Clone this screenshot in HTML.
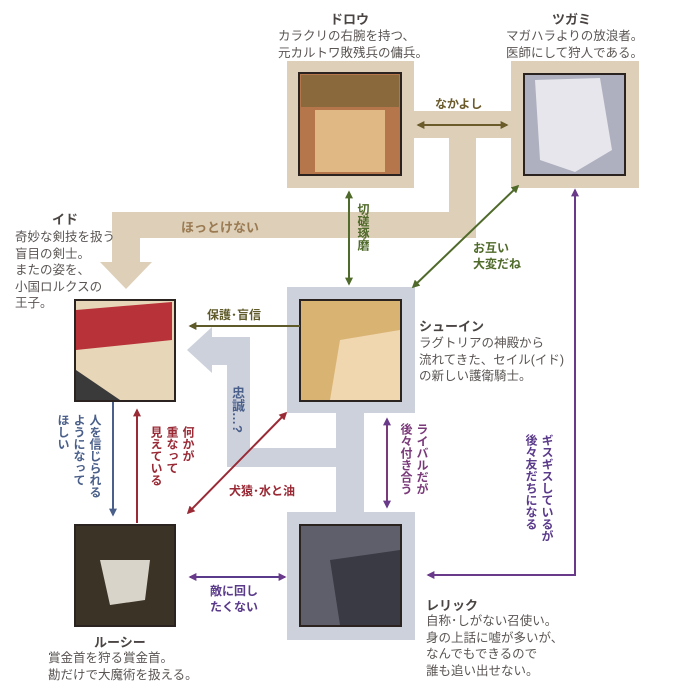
<!DOCTYPE html>
<html><head><meta charset="utf-8"><style>
body{margin:0;background:#fff;}
#c{position:relative;width:700px;height:700px;overflow:hidden;font-family:"Liberation Sans","Noto Sans CJK JP",sans-serif;color:#5a5553;}
.t{position:absolute;font-size:12.5px;line-height:16.5px;white-space:nowrap;}
.h{position:absolute;font-size:13px;font-weight:bold;color:#4a4543;white-space:nowrap;}
.v{position:absolute;writing-mode:vertical-rl;font-size:12.5px;line-height:16px;font-weight:bold;white-space:nowrap;}
.l{position:absolute;font-size:12.5px;font-weight:bold;white-space:nowrap;}
</style></head><body><div id="c">
<svg width="700" height="700" style="position:absolute;left:0;top:0">
<defs>
<marker id="ab" viewBox="0 0 10 10" refX="8" refY="5" markerWidth="4" markerHeight="4" orient="auto-start-reverse"><path d="M0,0L10,5L0,10z" fill="#6b5a2a"/></marker>
<marker id="ag" viewBox="0 0 10 10" refX="8" refY="5" markerWidth="4" markerHeight="4" orient="auto-start-reverse"><path d="M0,0L10,5L0,10z" fill="#4f6a2a"/></marker>
<marker id="ap" viewBox="0 0 10 10" refX="8" refY="5" markerWidth="4" markerHeight="4" orient="auto-start-reverse"><path d="M0,0L10,5L0,10z" fill="#6a3a8a"/></marker>
<marker id="ar" viewBox="0 0 10 10" refX="8" refY="5" markerWidth="4" markerHeight="4" orient="auto-start-reverse"><path d="M0,0L10,5L0,10z" fill="#9a2a35"/></marker>
<marker id="abl" viewBox="0 0 10 10" refX="8" refY="5" markerWidth="4" markerHeight="4" orient="auto-start-reverse"><path d="M0,0L10,5L0,10z" fill="#4a5f8a"/></marker>
<marker id="ao" viewBox="0 0 10 10" refX="8" refY="5" markerWidth="4" markerHeight="4" orient="auto-start-reverse"><path d="M0,0L10,5L0,10z" fill="#5f5a2a"/></marker>
</defs>
<g fill="#ddcfb8">
<rect x="287" y="61" width="127" height="127"/>
<rect x="511" y="61" width="128" height="127"/>
<rect x="413" y="111" width="100" height="27"/>
<rect x="449" y="111" width="27" height="127"/>
<rect x="112" y="212" width="364" height="26"/>
<rect x="112" y="212" width="28" height="52"/>
<path d="M100,262L152,262L126,289z"/>
</g>
<g fill="#cdd1dc">
<rect x="287" y="287" width="128" height="126"/>
<rect x="287" y="512" width="128" height="128"/>
<rect x="336" y="410" width="28" height="104"/>
<rect x="227" y="337" width="23" height="130"/>
<rect x="227" y="448" width="112" height="19"/>
<rect x="210" y="337" width="40" height="28"/>
<path d="M212,327L212,373L187,350z"/>
</g>
<rect x="299" y="73" width="102" height="102" fill="#b4764a" stroke="#2a2320" stroke-width="2"/>
<rect x="301" y="75" width="98" height="32" fill="#8a6a3c"/>
<rect x="315" y="110" width="70" height="62" fill="#e0b884"/>
<rect x="524" y="74" width="101" height="101" fill="#aeb0bf" stroke="#2a2320" stroke-width="2"/>
<path d="M535,80L600,78L612,150L575,172L540,160z" fill="#e6e6ec"/>
<rect x="300" y="300" width="101" height="101" fill="#d9b372" stroke="#2a2320" stroke-width="2"/>
<path d="M340,340L400,330L400,400L330,400z" fill="#f0d7b0"/>
<rect x="300" y="525" width="101" height="101" fill="#5e5f6a" stroke="#2a2320" stroke-width="2"/>
<path d="M330,560L400,550L400,625L340,625z" fill="#3a3a44"/>
<rect x="75" y="300" width="100" height="101" fill="#e8d6b8" stroke="#2a2320" stroke-width="2"/>
<path d="M76,310L172,302L172,340L76,350z" fill="#b8323a"/>
<path d="M76,370L120,400L76,400z" fill="#3a3a3a"/>
<rect x="75" y="525" width="100" height="101" fill="#3a3326" stroke="#2a2320" stroke-width="2"/>
<path d="M100,560L150,560L145,600L110,605z" fill="#d8d4ca"/>
<line x1="418" y1="125" x2="507" y2="125" stroke="#6b5a2a" stroke-width="2" marker-start="url(#ab)" marker-end="url(#ab)"/>
<line x1="349" y1="192" x2="349" y2="284" stroke="#4f6a2a" stroke-width="2" marker-start="url(#ag)" marker-end="url(#ag)"/>
<line x1="518" y1="186" x2="413" y2="287" stroke="#4f6a2a" stroke-width="2" marker-start="url(#ag)" marker-end="url(#ag)"/>
<polyline points="575,190 575,575 428,575" fill="none" stroke="#6a3a8a" stroke-width="2" marker-start="url(#ap)" marker-end="url(#ap)"/>
<line x1="387" y1="419" x2="387" y2="507" stroke="#7a3a7a" stroke-width="2" marker-start="url(#ap)" marker-end="url(#ap)"/>
<line x1="300" y1="326" x2="190" y2="326" stroke="#5f5a2a" stroke-width="2" marker-end="url(#ao)"/>
<line x1="286" y1="413" x2="188" y2="513" stroke="#9a2a35" stroke-width="2" marker-start="url(#ar)" marker-end="url(#ar)"/>
<line x1="113" y1="402" x2="113" y2="515" stroke="#4a5f8a" stroke-width="2" marker-end="url(#abl)"/>
<line x1="137" y1="523" x2="137" y2="410" stroke="#9a2a35" stroke-width="2" marker-end="url(#ar)"/>
<line x1="190" y1="577" x2="285" y2="577" stroke="#5a3a8a" stroke-width="2" marker-start="url(#ap)" marker-end="url(#ap)"/>
</svg>
<div class="h" style="left:330px;top:9px">ドロウ</div>
<div class="t" style="left:278px;top:28px">カラクリの右腕を持つ、<br>元カルトワ敗残兵の傭兵。</div>
<div class="h" style="left:552px;top:9px">ツガミ</div>
<div class="t" style="left:506px;top:28px">マガハラよりの放浪者。<br>医師にして狩人である。</div>
<div class="h" style="left:52px;top:209px">イド</div>
<div class="t" style="left:15px;top:229px">奇妙な剣技を扱う<br>盲目の剣士。<br>またの姿を、<br>小国ロルクスの<br>王子。</div>
<div class="h" style="left:419px;top:316px">シューイン</div>
<div class="t" style="left:419px;top:335px">ラグトリアの神殿から<br>流れてきた、セイル(イド)<br>の新しい護衛騎士。</div>
<div class="h" style="left:426px;top:595px">レリック</div>
<div class="t" style="left:426px;top:613px">自称･しがない召使い。<br>身の上話に嘘が多いが、<br>なんでもできるので<br>誰も追い出せない。</div>
<div class="h" style="left:94px;top:632px">ルーシー</div>
<div class="t" style="left:48px;top:650px">賞金首を狩る賞金首。<br>勘だけで大魔術を扱える。</div>
<div class="l" style="left:435px;top:95px;color:#6b5a2a;font-size:12px">なかよし</div>
<div class="l" style="left:181px;top:217px;color:#9a7a52;font-size:13px">ほっとけない</div>
<div class="v" style="left:355px;top:203px;color:#4f6a2a;font-size:12px">切磋琢磨</div>
<div class="l" style="left:473px;top:240px;color:#4f6a2a;font-size:12px;line-height:16px">お互い<br>大変だね</div>
<div class="l" style="left:207px;top:306px;color:#5f5a2a;font-size:12px">保護･盲信</div>
<div class="v" style="left:229px;top:386px;color:#4a5f8a;font-size:13px">忠誠…?</div>
<div class="l" style="left:229px;top:482px;color:#9a2a35;font-size:12px">犬猿･水と油</div>
<div class="v" style="left:398px;top:423px;color:#7a3a7a;font-size:12px">ライバルだが<br>後々付き合う</div>
<div class="v" style="left:523px;top:434px;color:#5a3a8a;font-size:12px">ギスギスしているが<br>後々友だちになる</div>
<div class="v" style="left:55px;top:414px;color:#4a5f8a;font-size:12px">人を信じられる<br>ようになって<br>ほしい</div>
<div class="v" style="left:148px;top:426px;color:#9a2a35;font-size:12px">何かが<br>重なって<br>見えている</div>
<div class="l" style="left:210px;top:583px;color:#5a3a8a;font-size:12px;line-height:16px">敵に回し<br>たくない</div>
</div></body></html>
